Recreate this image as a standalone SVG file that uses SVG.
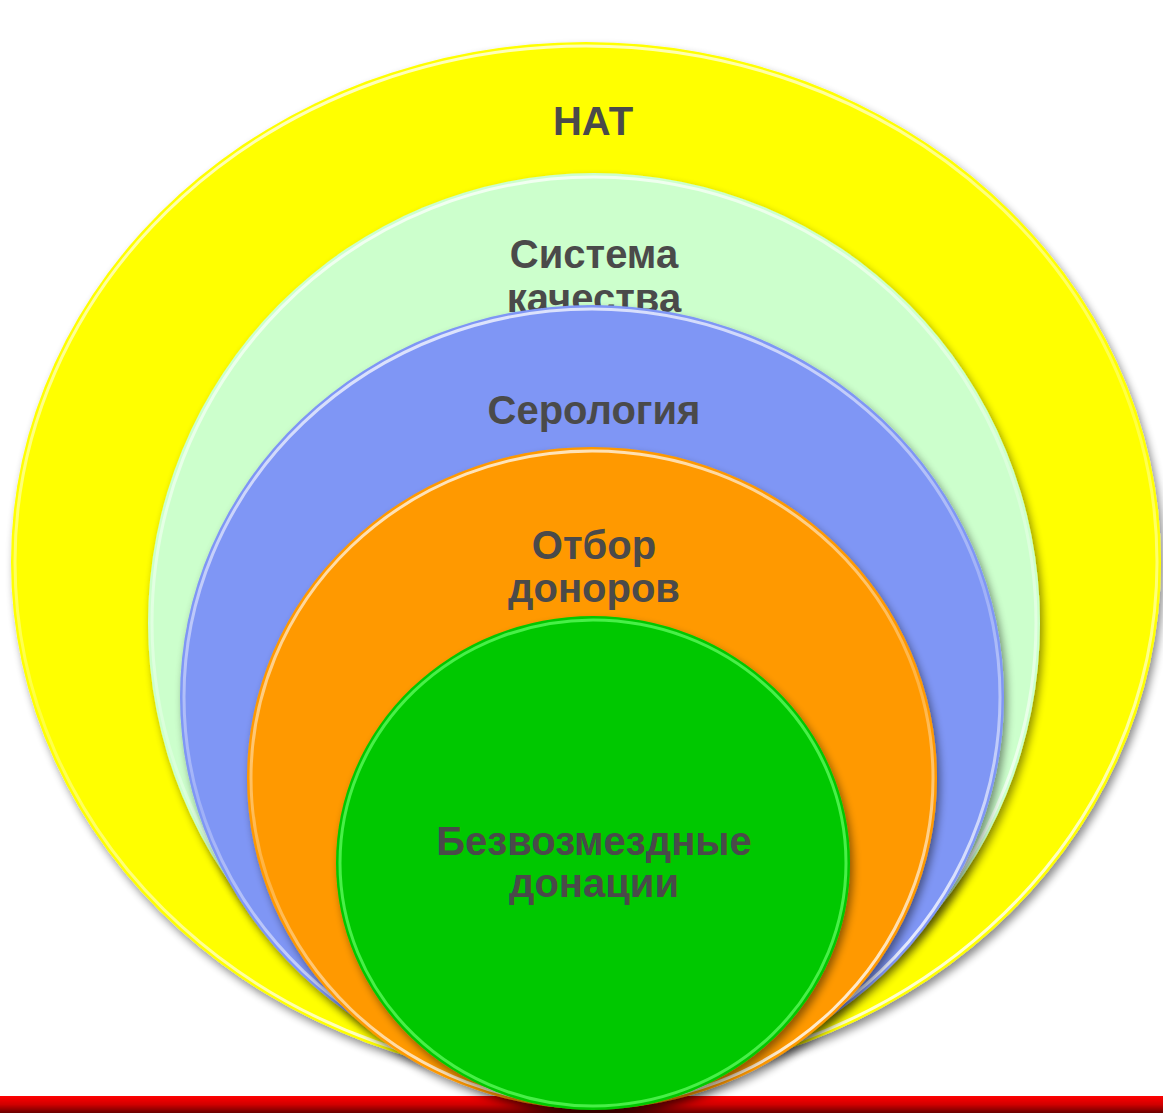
<svg xmlns="http://www.w3.org/2000/svg" width="1163" height="1113" viewBox="0 0 1163 1113">
<defs>
<linearGradient id="bar" x1="0" y1="0" x2="0" y2="1">
<stop offset="0" stop-color="#ff0000"/>
<stop offset="0.5" stop-color="#d00000"/>
<stop offset="1" stop-color="#6a0000"/>
</linearGradient>
<linearGradient id="rimg" x1="0" y1="0" x2="0.3" y2="1">
<stop offset="0" stop-color="#ffffff" stop-opacity="0.85"/>
<stop offset="0.6" stop-color="#ffffff" stop-opacity="0.25"/>
<stop offset="1" stop-color="#ffffff" stop-opacity="0.8"/>
</linearGradient>
<filter id="sh" x="-10%" y="-10%" width="120%" height="125%">
<feGaussianBlur in="SourceAlpha" stdDeviation="4"/>
<feOffset dx="3" dy="5" result="b"/>
<feComponentTransfer><feFuncA type="linear" slope="0.45"/></feComponentTransfer>
<feMerge><feMergeNode/><feMergeNode in="SourceGraphic"/></feMerge>
</filter>
</defs>
<style>
.lbl{font-family:"Liberation Sans",Arial,sans-serif;font-weight:bold;font-size:40px;fill:#4a4a4a;text-anchor:middle}
.rim{fill:none;stroke:url(#rimg);stroke-width:3}
</style>
<rect x="0" y="1096" width="1163" height="17" fill="url(#bar)"/>
<g id="nat">
<ellipse cx="586" cy="562" rx="575" ry="520" fill="#ffff00" filter="url(#sh)"/>
<ellipse cx="586" cy="562" rx="571" ry="516" class="rim"/>
<text class="lbl" x="593" y="135">НАТ</text>
</g>
<g id="quality">
<ellipse cx="594" cy="623" rx="446" ry="450" fill="#ccffcc" filter="url(#sh)"/>
<ellipse cx="594" cy="623" rx="442" ry="446" class="rim"/>
<text class="lbl" x="594" y="268">Система</text>
<text class="lbl" x="594" y="312">качества</text>
</g>
<g id="serology">
<ellipse cx="592" cy="697" rx="412" ry="392" fill="#7f96f5" filter="url(#sh)"/>
<ellipse cx="592" cy="697" rx="408" ry="388" class="rim"/>
<text class="lbl" x="594" y="424">Серология</text>
</g>
<g id="selection">
<ellipse cx="592" cy="778" rx="345" ry="331" fill="#ff9900" filter="url(#sh)"/>
<ellipse cx="592" cy="778" rx="341" ry="327" class="rim"/>
<text class="lbl" x="594" y="559">Отбор</text>
<text class="lbl" x="594" y="602">доноров</text>
</g>
<g id="donations">
<ellipse cx="593" cy="863" rx="257" ry="247" fill="#00c800" filter="url(#sh)"/>
<ellipse cx="593" cy="863" rx="253" ry="243" fill="none" stroke="#66ff66" stroke-width="3" stroke-opacity="0.7"/>
<text class="lbl" x="594" y="855">Безвозмездные</text>
<text class="lbl" x="594" y="897">донации</text>
</g>
<g id="connectors"/>
</svg>
